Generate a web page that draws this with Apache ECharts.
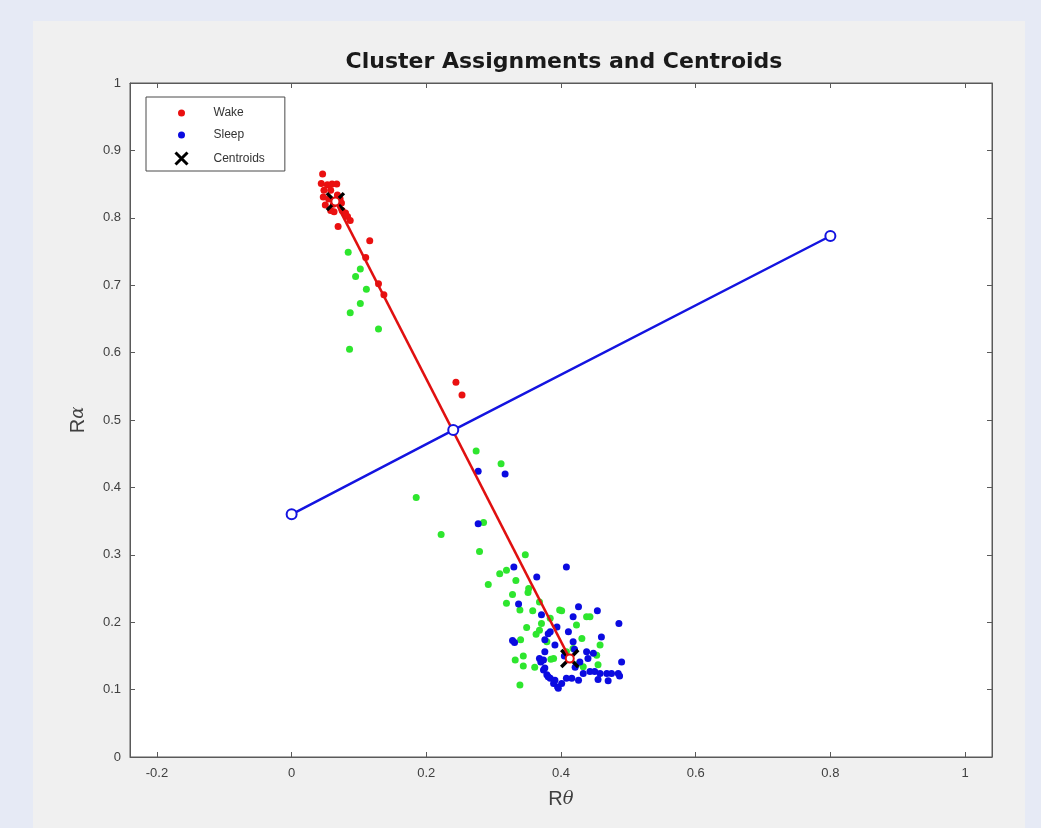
<!DOCTYPE html>
<html>
<head>
<meta charset="utf-8">
<script src="https://cdn.jsdelivr.net/npm/echarts@6/dist/echarts.min.js"></script>
<style>
  html, body { margin: 0; padding: 0; background: #e6eaf5; width: 1041px; height: 828px; overflow: hidden; }
  #chart { position: absolute; left: 33px; top: 21px; width: 992px; height: 807px; background: #f0f0f0; }
</style>
</head>
<body>
<div id="chart"></div>
<script>
// [A] Datos
const xTicks = [-0.2, 0, 0.2, 0.4, 0.6, 0.8, 1];
const yTicks = [0, 0.1, 0.2, 0.3, 0.4, 0.5, 0.6, 0.7, 0.8, 0.9, 1];

const wakePts = [
  [0.046, 0.865], [0.044, 0.851], [0.053, 0.849], [0.060, 0.850], [0.067, 0.850],
  [0.048, 0.841], [0.058, 0.841], [0.047, 0.831], [0.050, 0.819], [0.058, 0.811],
  [0.063, 0.809], [0.075, 0.811], [0.080, 0.807], [0.083, 0.802], [0.087, 0.796],
  [0.069, 0.787], [0.116, 0.766], [0.110, 0.741], [0.129, 0.702], [0.137, 0.686],
  [0.068, 0.834], [0.072, 0.828], [0.055, 0.828], [0.062, 0.820], [0.074, 0.822],
  [0.244, 0.556], [0.253, 0.537]
];

const sleepPts = [
  [0.277, 0.424], [0.317, 0.420], [0.277, 0.346], [0.330, 0.282], [0.408, 0.282],
  [0.364, 0.267], [0.337, 0.227], [0.371, 0.211], [0.384, 0.186], [0.328, 0.173],
  [0.331, 0.170], [0.376, 0.156], [0.368, 0.146], [0.370, 0.141], [0.374, 0.129],
  [0.379, 0.122], [0.384, 0.117], [0.389, 0.109], [0.395, 0.104], [0.394, 0.193],
  [0.426, 0.223], [0.454, 0.217], [0.418, 0.208], [0.486, 0.198], [0.411, 0.186],
  [0.460, 0.178], [0.381, 0.183], [0.376, 0.174], [0.391, 0.166], [0.418, 0.171],
  [0.438, 0.156], [0.448, 0.154], [0.440, 0.146], [0.374, 0.144], [0.490, 0.141],
  [0.376, 0.132], [0.381, 0.119], [0.391, 0.114], [0.401, 0.109], [0.396, 0.102],
  [0.408, 0.117], [0.416, 0.117], [0.426, 0.114], [0.433, 0.124], [0.443, 0.127],
  [0.450, 0.127], [0.458, 0.124], [0.468, 0.124], [0.475, 0.124], [0.485, 0.124],
  [0.455, 0.115], [0.470, 0.113], [0.428, 0.141], [0.421, 0.133], [0.487, 0.120],
  [0.405, 0.150], [0.420, 0.160]
];

// puntos verdes (sin entrada en la leyenda)
const otherPts = [
  [0.084, 0.749], [0.102, 0.724], [0.095, 0.713], [0.111, 0.694], [0.102, 0.673],
  [0.087, 0.659], [0.129, 0.635], [0.086, 0.605],
  [0.274, 0.454], [0.311, 0.435], [0.185, 0.385], [0.285, 0.348], [0.222, 0.330],
  [0.279, 0.305], [0.347, 0.300], [0.309, 0.272], [0.319, 0.277], [0.292, 0.256],
  [0.333, 0.262], [0.328, 0.241], [0.352, 0.250], [0.351, 0.244], [0.319, 0.228],
  [0.339, 0.218], [0.358, 0.217], [0.368, 0.230], [0.349, 0.192], [0.371, 0.198],
  [0.368, 0.188], [0.363, 0.182], [0.384, 0.206], [0.340, 0.174], [0.379, 0.171],
  [0.344, 0.150], [0.332, 0.144], [0.344, 0.135], [0.361, 0.133], [0.385, 0.145],
  [0.339, 0.107], [0.398, 0.218],
  [0.401, 0.217], [0.438, 0.208], [0.443, 0.208], [0.423, 0.196], [0.431, 0.176],
  [0.418, 0.161], [0.458, 0.166], [0.453, 0.151], [0.455, 0.137], [0.423, 0.137],
  [0.433, 0.134], [0.408, 0.156], [0.389, 0.146]
];

const centroids = [[0.065, 0.824], [0.413, 0.146]];
const centroidLine = [[0.065, 0.824], [0.413, 0.146]];
const bisectorLine = [[0, 0.36], [0.24, 0.485], [0.80, 0.773]];

// [B] Estilos
const FONT = 'Liberation Sans, Arial, sans-serif';
const AXIS_COLOR = '#5a5a5a';
const LABEL_COLOR = '#404040';

const dotIcon = 'path://M0,0L0,0M54,14L54,14M23.5,7a3.5,3.5 0 1,0 7,0a3.5,3.5 0 1,0 -7,0z';
const crossIcon = 'path://M0,0L0,0M54,14L54,14M21,1L33,13M33,1L21,13';

function xAxisCfg(pos, showLabel) {
  return {
    type: 'value', position: pos, min: -0.24, max: 1.04,
    axisLine: { show: true, onZero: false, lineStyle: { color: AXIS_COLOR, width: 1 } },
    axisTick: { show: true, inside: true, length: 5, customValues: xTicks, lineStyle: { color: AXIS_COLOR } },
    axisLabel: { show: showLabel, customValues: xTicks, margin: 10, color: LABEL_COLOR, fontSize: 13, fontFamily: FONT },
    splitLine: { show: false }
  };
}

function yAxisCfg(pos, showLabel) {
  return {
    type: 'value', position: pos, min: 0, max: 1,
    axisLine: { show: true, onZero: false, lineStyle: { color: AXIS_COLOR, width: 1 } },
    axisTick: { show: true, inside: true, length: 5, customValues: yTicks, lineStyle: { color: AXIS_COLOR } },
    axisLabel: { show: showLabel, customValues: yTicks, margin: 9, color: LABEL_COLOR, fontSize: 13, fontFamily: FONT },
    splitLine: { show: false }
  };
}

// [C] Gráfico
const chartDom = document.getElementById('chart');
const myChart = echarts.init(chartDom, null, { renderer: 'canvas' });

const nameRich = {
  r: { fontFamily: FONT, fontSize: 20, color: LABEL_COLOR },
  g: { fontFamily: 'DejaVu Serif', fontStyle: 'italic', fontSize: 18, color: LABEL_COLOR }
};

const xMain = xAxisCfg('bottom', true);
xMain.name = '{r|R}{g|θ}';
xMain.nameLocation = 'middle';
xMain.nameGap = 32;
xMain.nameTextStyle = { rich: nameRich };

const yMain = yAxisCfg('left', true);
yMain.name = '{r|R}{g|α}';
yMain.nameLocation = 'middle';
yMain.nameGap = 42;
yMain.nameTextStyle = { rich: nameRich };

const option = {
  animation: false,
  title: {
    text: 'Cluster Assignments and Centroids',
    left: 526, top: 25, textAlign: 'center',
    textStyle: { fontFamily: 'DejaVu Sans', fontSize: 22, fontWeight: 'bold', color: '#1a1a1a' }
  },
  legend: {
    orient: 'vertical', left: 113, top: 76,
    padding: [9, 20, 4, 7], itemGap: 8, itemWidth: 54, itemHeight: 14,
    backgroundColor: '#fff', borderColor: '#4a4a4a', borderWidth: 1,
    textStyle: { fontFamily: FONT, fontSize: 12, color: '#333' },
    data: [
      { name: 'Wake', icon: dotIcon },
      { name: 'Sleep', icon: dotIcon },
      { name: 'Centroids', icon: crossIcon, itemStyle: { borderWidth: 3, borderColor: '#000' } }
    ]
  },
  grid: {
    left: 97, top: 62, right: 33, bottom: 71,
    show: true, backgroundColor: '#fff', borderColor: AXIS_COLOR, borderWidth: 1
  },
  xAxis: [xMain, xAxisCfg('top', false)],
  yAxis: [yMain, yAxisCfg('right', false)],
  series: [
    {
      name: 'Other', type: 'scatter', data: otherPts, symbolSize: 7,
      itemStyle: { color: '#2ee62e', opacity: 1 }
    },
    {
      name: 'Sleep', type: 'scatter', data: sleepPts, symbolSize: 7,
      itemStyle: { color: '#0b0be0', opacity: 1 }
    },
    {
      name: 'Wake', type: 'scatter', data: wakePts, symbolSize: 7,
      itemStyle: { color: '#ea1010', opacity: 1 }
    },
    {
      name: 'CentroidLine', type: 'line', data: centroidLine,
      symbol: 'emptyCircle', symbolSize: 8,
      lineStyle: { color: '#e01010', width: 2.5 },
      itemStyle: { color: '#e01010', borderWidth: 2 }
    },
    {
      name: 'Bisector', type: 'line', data: bisectorLine,
      symbol: 'emptyCircle', symbolSize: 10,
      lineStyle: { color: '#1414e0', width: 2.5 },
      itemStyle: { color: '#1414e0', borderWidth: 2 }
    },
    {
      name: 'Centroids', type: 'scatter', data: centroids,
      symbol: 'path://M0,0L10,10M10,0L0,10', symbolSize: 17,
      itemStyle: { color: '#000', borderColor: '#000', borderWidth: 3.5, opacity: 1 }
    }
  ]
};

myChart.setOption(option);
</script>
</body>
</html>
